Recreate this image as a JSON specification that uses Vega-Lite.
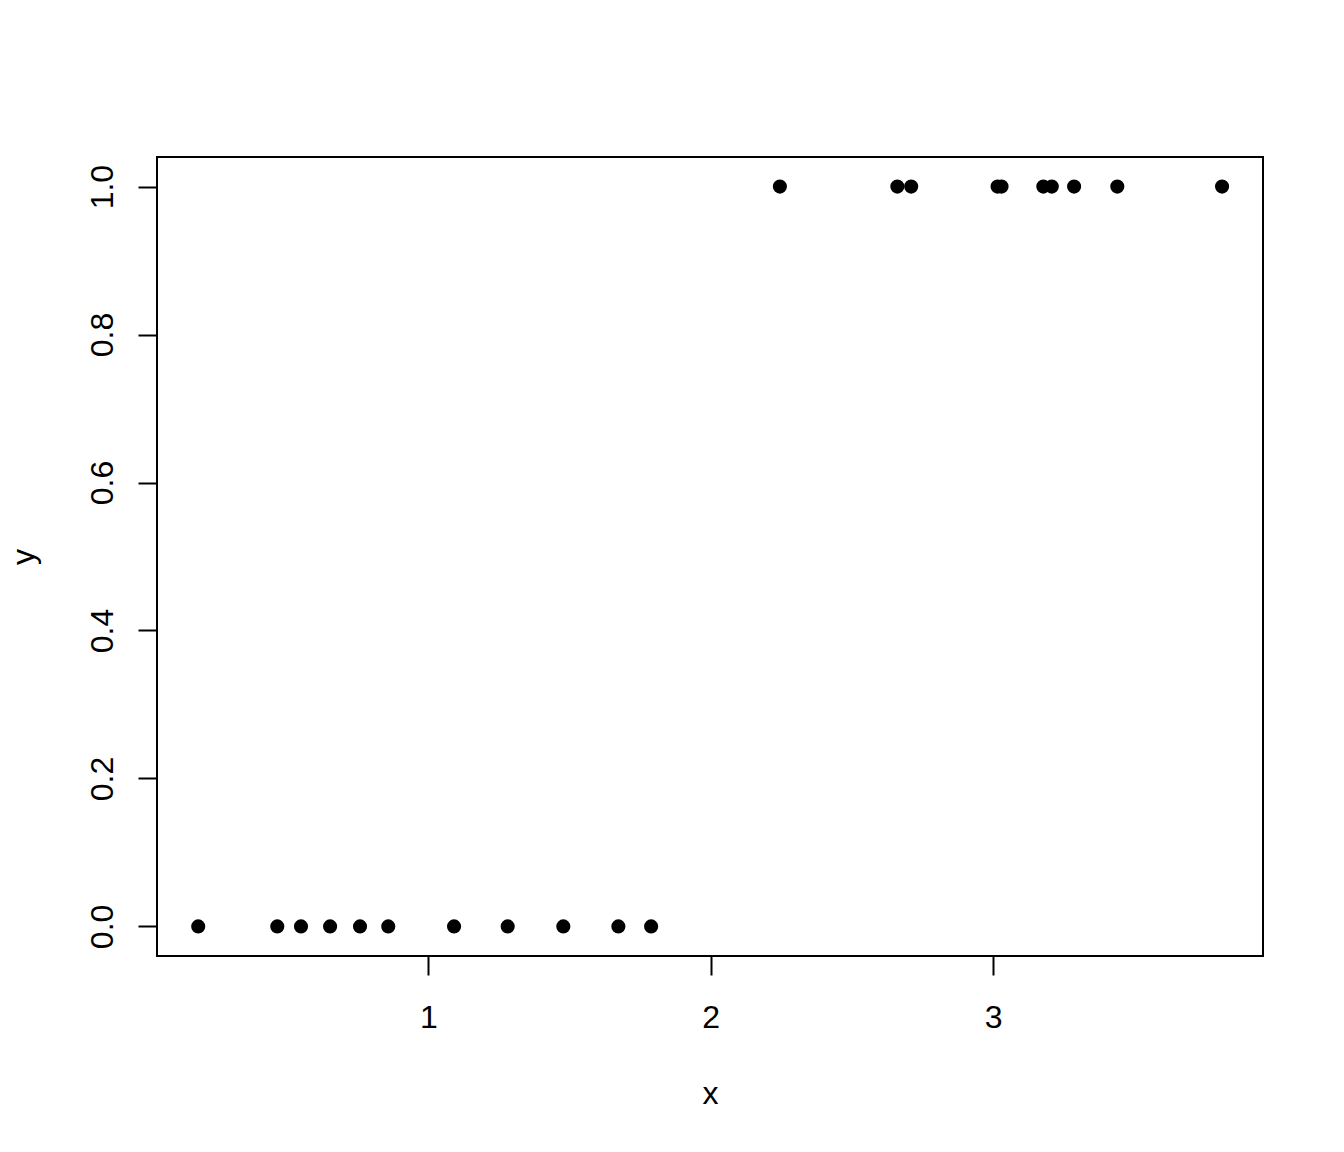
{
  "$schema": "https://vega.github.io/schema/vega-lite/v6.json",
  "width": 1106,
  "height": 799,
  "autosize": {"type": "none"},
  "padding": {"left": 157, "top": 157, "right": 81, "bottom": 196},
  "background": "white",
  "config": {
    "view": {"stroke": "black", "strokeWidth": 2, "fill": "white"},
    "font": "Liberation Sans",
    "axis": {
      "grid": false,
      "domain": false,
      "tickColor": "black",
      "tickWidth": 2,
      "tickSize": 19,
      "labelColor": "black",
      "labelFont": "Liberation Sans",
      "labelFontSize": 32,
      "titleFont": "Liberation Sans",
      "titleFontSize": 32,
      "titleFontWeight": "normal",
      "titleColor": "black"
    }
  },
  "data": {
    "values": [
      {"x": 0.185, "y": 0}, {"x": 0.465, "y": 0}, {"x": 0.549, "y": 0},
      {"x": 0.652, "y": 0}, {"x": 0.758, "y": 0}, {"x": 0.858, "y": 0},
      {"x": 1.091, "y": 0}, {"x": 1.281, "y": 0}, {"x": 1.478, "y": 0},
      {"x": 1.673, "y": 0}, {"x": 1.789, "y": 0},
      {"x": 2.245, "y": 1}, {"x": 2.661, "y": 1}, {"x": 2.710, "y": 1},
      {"x": 3.016, "y": 1}, {"x": 3.030, "y": 1}, {"x": 3.178, "y": 1},
      {"x": 3.208, "y": 1}, {"x": 3.287, "y": 1}, {"x": 3.440, "y": 1},
      {"x": 3.811, "y": 1}
    ]
  },
  "mark": {"type": "point", "filled": true, "shape": "circle", "size": 200, "color": "black", "opacity": 1, "strokeWidth": 0},
  "encoding": {
    "x": {
      "field": "x", "type": "quantitative",
      "scale": {"domain": [0.039, 3.956], "nice": false, "zero": false},
      "axis": {
        "values": [1, 2, 3], "format": "d",
        "labelBaseline": "alphabetic", "labelPadding": 52,
        "labelAlign": "center", "labelFlush": false,
        "title": "x", "titleX": 553, "titleY": 147,
        "titleBaseline": "alphabetic", "titleAlign": "center"
      }
    },
    "y": {
      "field": "y", "type": "quantitative",
      "scale": {"domain": [-0.04, 1.04], "nice": false, "zero": false},
      "axis": {
        "values": [0, 0.2, 0.4, 0.6, 0.8, 1.0], "format": ".1f",
        "labelAngle": -90, "labelAlign": "center",
        "labelBaseline": "alphabetic", "labelPadding": 26, "labelFlush": false,
        "title": "y", "titleX": -124, "titleY": 399.5, "titleAngle": -90,
        "titleBaseline": "alphabetic", "titleAlign": "center"
      }
    }
  }
}
